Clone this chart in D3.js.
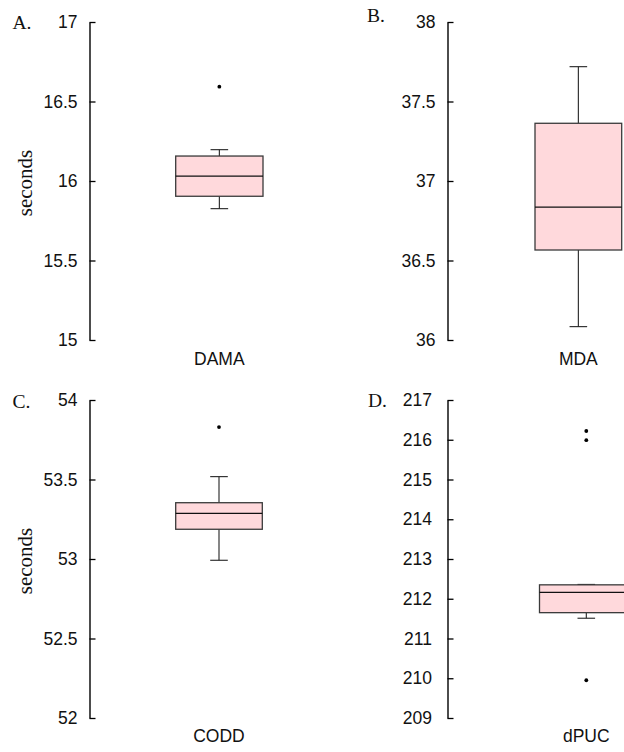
<!DOCTYPE html>
<html>
<head>
<meta charset="utf-8">
<script src="https://cdn.jsdelivr.net/npm/d3@7"></script>
<style>
  html, body { margin: 0; padding: 0; background: #fff; }
  svg { display: block; }
</style>
</head>
<body>
<svg id="chart" width="624" height="752"></svg>
<script>
// ---- data ----
const categories   = ["DAMA", "MDA", "CODD", "dPUC"];
const panelLabels  = ["A.", "B.", "C.", "D."];
const whiskerLow   = [15.826, 36.084, 52.992, 211.51];
const q1           = [15.904, 36.566, 53.187, 211.65];
const median       = [16.031, 36.836, 53.287, 212.16];
const q3           = [16.157, 37.363, 53.354, 212.35];
const whiskerHigh  = [16.197, 37.719, 53.518, 212.36];
const outliers     = [[16.593], [], [53.83], [216.22, 215.99, 209.95]];
const yDomains     = [[15, 17], [36, 38], [52, 54], [209, 217]];
const yTicks       = [
  [15, 15.5, 16, 16.5, 17],
  [36, 36.5, 37, 37.5, 38],
  [52, 52.5, 53, 53.5, 54],
  [209, 210, 211, 212, 213, 214, 215, 216, 217]
];
const yLabel = "seconds";

// ---- layout ----
const layout = [
  { axisX: 89.5,  top: 22,  bottom: 340, boxL: 175.7, boxR: 263.0, xLabY: 365, tagX: 12.5, tagY: 29,   ylab: true,  labGap: 12 },
  { axisX: 447.5, top: 22,  bottom: 340, boxL: 535.0, boxR: 621.7, xLabY: 365, tagX: 367,  tagY: 21.7, ylab: false, labGap: 12 },
  { axisX: 89.5,  top: 400, bottom: 718, boxL: 175.7, boxR: 262.3, xLabY: 742, tagX: 12.5, tagY: 407.5,ylab: true,  labGap: 12 },
  { axisX: 447.5, top: 400, bottom: 718, boxL: 539.5, boxR: 633.1, xLabY: 742, tagX: 368,  tagY: 407.3,ylab: false, labGap: 15.5 }
];

const svg = d3.select("#chart");
const sans = "'Liberation Sans', Arial, Helvetica, sans-serif";
const serif = "'Liberation Serif', 'Times New Roman', Times, serif";
const fillCol = "#FFD9DC";

categories.forEach((cat, i) => {
  const L = layout[i];
  const y = d3.scaleLinear().domain(yDomains[i]).range([L.bottom, L.top]);
  const x = d3.scaleBand().domain([cat]).range([L.boxL, L.boxR]).padding(0);
  const cx = x(cat) + x.bandwidth() / 2;
  const g = svg.append("g");

  // axis
  const axis = d3.axisLeft(y)
    .tickValues(yTicks[i])
    .tickFormat(d => String(d))
    .tickSizeInner(-6)
    .tickSizeOuter(0)
    .tickPadding(L.labGap);
  const ag = g.append("g").attr("transform", `translate(${L.axisX},0)`).call(axis);
  ag.select(".domain").attr("stroke", "#000").attr("stroke-width", 1.4);
  ag.selectAll(".tick line").attr("stroke", "#000").attr("stroke-width", 1.3);
  ag.selectAll(".tick text")
    .attr("font-family", sans)
    .attr("font-size", "17.5px")
    .attr("fill", "#111");

  // whiskers
  const capHalf = 8.8;
  g.append("line")
    .attr("x1", cx).attr("x2", cx)
    .attr("y1", y(whiskerHigh[i])).attr("y2", y(q3[i]))
    .attr("stroke", "#222").attr("stroke-width", 1.1);
  g.append("line")
    .attr("x1", cx).attr("x2", cx)
    .attr("y1", y(q1[i])).attr("y2", y(whiskerLow[i]))
    .attr("stroke", "#222").attr("stroke-width", 1.1);
  [whiskerHigh[i], whiskerLow[i]].forEach(v => {
    g.append("line")
      .attr("x1", cx - capHalf).attr("x2", cx + capHalf)
      .attr("y1", y(v)).attr("y2", y(v))
      .attr("stroke", "#222").attr("stroke-width", 1.1);
  });

  // box
  g.append("rect")
    .attr("x", x(cat)).attr("width", x.bandwidth())
    .attr("y", y(q3[i])).attr("height", y(q1[i]) - y(q3[i]))
    .attr("fill", fillCol)
    .attr("stroke", "#3a3a3a").attr("stroke-width", 1.3);
  g.append("line")
    .attr("x1", x(cat)).attr("x2", x(cat) + x.bandwidth())
    .attr("y1", y(median[i])).attr("y2", y(median[i]))
    .attr("stroke", "#111").attr("stroke-width", 1.3);

  // outliers
  g.selectAll("circle.out").data(outliers[i]).enter().append("circle")
    .attr("class", "out")
    .attr("cx", cx).attr("cy", d => y(d)).attr("r", 1.9)
    .attr("fill", "#000");

  // category label
  g.append("text")
    .attr("x", cx).attr("y", L.xLabY)
    .attr("text-anchor", "middle")
    .attr("font-family", sans).attr("font-size", "17.5px")
    .attr("fill", "#111")
    .text(cat);

  // panel tag
  g.append("text")
    .attr("x", L.tagX).attr("y", L.tagY)
    .attr("font-family", serif).attr("font-size", "19.5px")
    .attr("fill", "#111")
    .text(panelLabels[i]);

  // y label
  if (L.ylab) {
    const my = (L.top + L.bottom) / 2 + 2;
    g.append("text")
      .attr("transform", `translate(31.5,${my}) rotate(-90)`)
      .attr("text-anchor", "middle")
      .attr("font-family", serif).attr("font-size", "21px")
      .attr("fill", "#111")
      .text(yLabel);
  }
});
</script>
</body>
</html>
